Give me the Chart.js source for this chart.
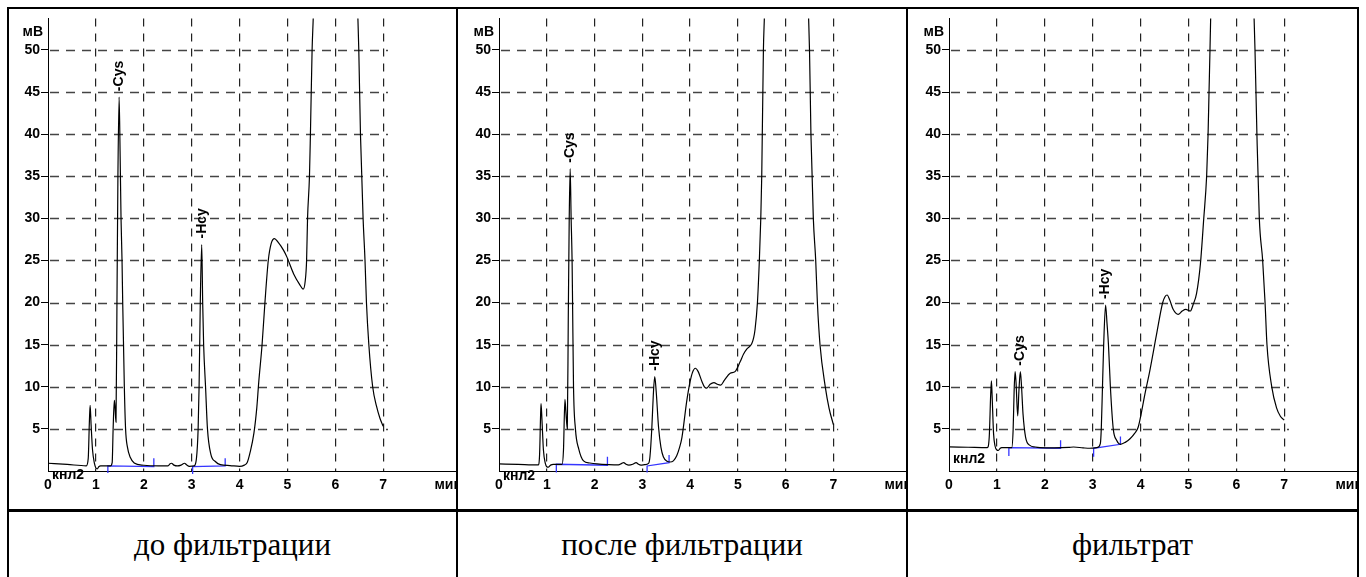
<!DOCTYPE html>
<html>
<head>
<meta charset="utf-8">
<script src="https://cdn.jsdelivr.net/npm/chart.js@4.4.0/dist/chart.umd.min.js"></script>
<style>
  body { margin: 0; background: #fff; width: 1366px; height: 577px; overflow: hidden; position: relative; }
  .line { position: absolute; background: #000; }
  canvas { position: absolute; top: 9px; }
  .caption { position: absolute; top: 512px; height: 65px; line-height: 65px; text-align: center;
             font-family: 'Liberation Serif', 'Times New Roman', serif; font-size: 31px; color: #000; }
</style>
</head>
<body>
<div class="line" style="left:7px;top:7px;width:1352px;height:2px"></div>
<div class="line" style="left:7px;top:7px;width:2px;height:570px"></div>
<div class="line" style="left:1357px;top:7px;width:2px;height:570px"></div>
<div class="line" style="left:456px;top:7px;width:2px;height:570px"></div>
<div class="line" style="left:906px;top:7px;width:2px;height:570px"></div>
<div class="line" style="left:7px;top:509px;width:1352px;height:3px"></div>

<canvas id="before" width="447" height="500" style="left:9px"></canvas>
<canvas id="after" width="448" height="500" style="left:458px"></canvas>
<canvas id="filtrate" width="449" height="500" style="left:908px"></canvas>

<div class="caption" style="left:9px;width:447px">до фильтрации</div>
<div class="caption" style="left:458px;width:448px">после фильтрации</div>
<div class="caption" style="left:908px;width:449px">фильтрат</div>

<script>
// axes
const xTicks = [0, 1, 2, 3, 4, 5, 6, 7];
const yTicks = [5, 10, 15, 20, 25, 30, 35, 40, 45, 50];
const xMax = 8.52;
const yMax = 53.75;
const gridEnd = 7.1;
const unitX = 8.07;

// до фильтрации
const beforeTime = [0, 0.4, 0.8, 0.84, 0.865, 0.88, 0.9, 0.93, 0.97, 1.0, 1.03, 1.06, 1.1, 1.3, 1.34, 1.36, 1.385, 1.4, 1.42,
  1.44, 1.46, 1.485, 1.505, 1.525, 1.546, 1.56, 1.594, 1.62, 1.66, 1.72, 1.8, 2.0, 2.3, 2.5, 2.55, 2.58, 2.63, 2.7, 2.78,
  2.85, 2.9, 2.95, 3.05, 3.1, 3.135, 3.155, 3.18, 3.21, 3.23, 3.25, 3.29, 3.33, 3.4, 3.5, 3.6, 3.8, 4.0, 4.1, 4.16, 4.22,
  4.3, 4.36, 4.4, 4.47, 4.53, 4.6, 4.66, 4.73, 4.8, 4.92, 4.99, 5.13, 5.25, 5.33, 5.37, 5.4, 5.42, 5.46, 5.48, 5.515,
  5.54, 6.0, 6.47, 6.49, 6.525, 6.58, 6.62, 6.65, 6.7, 6.78, 6.86, 6.93, 7.0];
const beforeMv = [0.92, 0.78, 0.62, 1.5, 6.0, 7.8, 5.5, 2.5, 0.9, 0.35, 0.25, 0.5, 0.6, 0.6, 1.0, 5.0, 8.4, 7.5, 5.8,
  20, 35, 44.4, 38, 30, 25, 20, 10, 5, 2.8, 1.6, 0.95, 0.68, 0.6, 0.6, 0.85, 0.92, 0.7, 0.6, 0.7,
  0.92, 0.7, 0.55, 0.6, 1.5, 5, 10, 20, 26.9, 20, 15, 10, 5, 2.0, 1.1, 0.75, 0.65, 0.55, 0.7, 1.0, 2.2,
  4.5, 7.5, 10.5, 15, 20, 25, 27, 27.6, 27.2, 26.2, 25.4, 23.4, 22.2, 21.6, 22.5, 25, 30, 35, 40, 50,
  54, 150, 54, 50, 40, 30, 25, 20, 15, 10, 7.7, 6.3, 5.3];
const beforeBaseTime = [1.25, 1.25, 2.21, 2.21, 2.21, 3.02, 3.02, 3.70, 3.70];
const beforeBaseMv = [-0.25, 0.6, 0.53, 1.5, null, -0.37, 0.53, 0.6, 1.5];
const beforePeaks = [['Cys', 1.485, 44.4], ['Hcy', 3.21, 26.9]];

// после фильтрации
const afterTime = [0, 0.4, 0.82, 0.85, 0.87, 0.88, 0.9, 0.93, 0.97, 1.0, 1.03, 1.08, 1.14, 1.32, 1.35, 1.38, 1.4, 1.43,
  1.45, 1.47, 1.49, 1.51, 1.53, 1.54, 1.56, 1.6, 1.67, 1.77, 1.9, 2.05, 2.3, 2.5, 2.57, 2.61, 2.66, 2.72, 2.8, 2.87,
  2.92, 2.97, 3.05, 3.13, 3.16, 3.2, 3.23, 3.26, 3.29, 3.34, 3.39, 3.44, 3.52, 3.58, 3.65, 3.72, 3.78, 3.83, 3.93, 4.0,
  4.05, 4.11, 4.17, 4.25, 4.3, 4.35, 4.42, 4.5, 4.57, 4.64, 4.72, 4.84, 4.94, 5.05, 5.12, 5.19, 5.29, 5.33, 5.36, 5.41,
  5.45, 5.48, 5.5, 5.535, 5.556, 6.0, 6.48, 6.5, 6.53, 6.58, 6.63, 6.665, 6.72, 6.83, 6.91, 7.0];
const afterMv = [0.84, 0.78, 0.72, 2.0, 6.5, 8.0, 6.0, 2.5, 0.9, 0.5, 0.45, 0.7, 0.78, 0.78, 2.5, 8.5, 7.0, 5.0,
  18, 30, 35.9, 30, 25, 20, 10, 5, 2.6, 1.2, 0.95, 0.84, 0.75, 0.72, 0.9, 1.0, 0.8, 0.7, 0.8, 1.0,
  0.8, 0.7, 0.75, 0.9, 1.7, 5.2, 9, 11.2, 9.5, 5.2, 2.8, 1.7, 1.15, 1.07, 1.2, 1.8, 2.8, 4.0, 8.3, 10.6,
  11.7, 12.2, 11.8, 10.6, 10.0, 9.85, 10.3, 10.5, 10.3, 10.2, 10.8, 11.6, 11.8, 13.0, 13.9, 14.5, 15.1, 15.8, 16.8, 20,
  25, 30, 35, 50, 54, 150, 54, 50, 40, 30, 25, 20, 15, 10, 7.45, 5.5];
const afterBaseTime = [1.2, 1.2, 2.27, 2.27, 2.27, 3.1, 3.1, 3.56, 3.56];
const afterBaseMv = [-0.17, 0.8, 0.68, 1.7, null, -0.17, 0.6, 1.0, 1.9];
const afterPeaks = [['Cys', 1.49, 35.9], ['Hcy', 3.26, 11.2]];

// фильтрат
const filtrateTime = [0, 0.4, 0.8, 0.84, 0.87, 0.886, 0.9, 0.93, 0.96, 1.0, 1.03, 1.07, 1.1, 1.31, 1.34, 1.36, 1.38, 1.4,
  1.435, 1.46, 1.49, 1.515, 1.546, 1.6, 1.69, 1.8, 1.9, 2.2, 2.5, 2.6, 2.8, 2.94, 3.1, 3.16, 3.18, 3.205, 3.23, 3.27,
  3.3, 3.33, 3.37, 3.43, 3.5, 3.58, 3.68, 3.78, 3.88, 3.95, 4.02, 4.09, 4.19, 4.33, 4.46, 4.51, 4.555, 4.61, 4.68, 4.785,
  4.87, 4.945, 5.04, 5.1, 5.17, 5.25, 5.32, 5.38, 5.41, 5.43, 5.45, 5.465, 5.9, 6.37, 6.39, 6.43, 6.48, 6.55, 6.6, 6.64,
  6.74, 6.84, 6.92, 7.0];
const filtrateMv = [2.86, 2.82, 2.78, 4.0, 9.0, 10.7, 9.0, 4.5, 3.0, 2.5, 2.45, 2.7, 2.78, 2.78, 5.0, 9.5, 11.8, 10.5,
  6.55, 9.5, 11.8, 10.0, 6.75, 4.0, 3.05, 2.85, 2.78, 2.75, 2.8, 2.85, 2.75, 2.7, 2.8, 3.25, 5, 10, 15, 19.7,
  17.5, 15, 10, 5, 3.64, 3.17, 3.4, 3.83, 4.5, 5.2, 7.0, 9.1, 11.8, 16.1, 19.95, 20.7, 20.9, 20.3, 19.2, 18.6,
  19.0, 19.2, 19.0, 19.8, 21.1, 24.6, 30, 35, 40, 45, 50, 54, 130, 54, 50, 40, 30, 25, 20, 15,
  10, 7.5, 6.5, 6.05];
const filtrateBaseTime = [1.25, 1.25, 2.33, 2.33, 2.33, 3.02, 3.02, 3.58, 3.58];
const filtrateBaseMv = [1.77, 2.78, 2.7, 3.64, null, 1.7, 2.7, 3.17, 4.1];
const filtratePeaks = [['Cys', 1.48, 11.8], ['Hcy', 3.27, 19.7]];

const tickFont = { family: "'Liberation Sans', Arial, sans-serif", size: 14, weight: 'bold' };
const labelFont = "bold 14px 'Liberation Sans', Arial, sans-serif";

const toPoints = (t, v) => t.map((x, i) => ({ x: x, y: v[i] }));

function makeOverlay(mv, peaks) {
  return {
    id: 'overlay',
    beforeDatasetsDraw(chart) {
      const { ctx, scales: { x, y } } = chart;
      ctx.save();
      ctx.strokeStyle = '#444';
      ctx.lineWidth = 1.3;
      ctx.setLineDash([9, 7]);
      yTicks.forEach(v => {
        const py = Math.round(y.getPixelForValue(v)) + 0.5;
        ctx.beginPath();
        ctx.moveTo(x.getPixelForValue(0) + 2, py);
        ctx.lineTo(x.getPixelForValue(gridEnd), py);
        ctx.stroke();
      });
      ctx.restore();
    },
    afterDatasetsDraw(chart) {
      const { ctx, chartArea, scales: { x, y } } = chart;
      ctx.save();
      ctx.fillStyle = '#000';
      ctx.font = labelFont;
      ctx.textBaseline = 'middle';
      ctx.textAlign = 'right';
      ctx.fillText('мВ', chartArea.left - 5, chartArea.top + 14);
      ctx.textAlign = 'left';
      ctx.fillText('мин', x.getPixelForValue(unitX), chartArea.bottom + 14);
      ctx.fillText('кнл2', x.getPixelForValue(0) + 4, y.getPixelForValue(mv[0]) + 12);
      peaks.forEach(p => {
        ctx.save();
        ctx.translate(x.getPixelForValue(p[1]), y.getPixelForValue(p[2]) - 6);
        ctx.rotate(-Math.PI / 2);
        ctx.fillText('-' + p[0], 0, 0);
        ctx.restore();
      });
      ctx.restore();
    }
  };
}

function makeChart(id, axisWidth, time, mv, baseTime, baseMv, peaks) {
  new Chart(document.getElementById(id), {
    type: 'line',
    data: {
      datasets: [
        {
          data: toPoints(time, mv),
          borderColor: '#000',
          borderWidth: 1.2,
          pointRadius: 0,
          cubicInterpolationMode: 'monotone'
        },
        {
          data: toPoints(baseTime, baseMv),
          borderColor: '#3535ff',
          borderWidth: 1.3,
          pointRadius: 0,
          tension: 0,
          spanGaps: false,
          clip: 6
        }
      ]
    },
    options: {
      responsive: false,
      animation: false,
      events: [],
      layout: { padding: { top: 1, left: 0, right: 0, bottom: 0 } },
      plugins: { legend: { display: false }, tooltip: { enabled: false } },
      scales: {
        x: {
          type: 'linear',
          min: 0,
          max: xMax,
          afterBuildTicks: s => { s.ticks = xTicks.map(v => ({ value: v })); },
          afterFit: s => { s.height = 38; },
          ticks: { font: tickFont, color: '#000', padding: 6, maxRotation: 0, autoSkip: false },
          grid: {
            drawTicks: false,
            lineWidth: 1.2,
            color: c => (c.tick && c.tick.value === 0 ? 'rgba(0,0,0,0)' : '#222')
          },
          border: { display: true, color: '#000', width: 1, dash: [8, 7] }
        },
        y: {
          type: 'linear',
          min: 0,
          max: yMax,
          afterBuildTicks: s => { s.ticks = yTicks.map(v => ({ value: v })); },
          afterFit: s => { s.width = axisWidth; },
          ticks: { font: tickFont, color: '#000', padding: 1 },
          grid: { drawOnChartArea: false, drawTicks: true, tickLength: 7, color: '#000' },
          border: { display: true, color: '#000', width: 1 }
        }
      }
    },
    plugins: [makeOverlay(mv, peaks)]
  });
}

makeChart('before', 39, beforeTime, beforeMv, beforeBaseTime, beforeBaseMv, beforePeaks);
makeChart('after', 41, afterTime, afterMv, afterBaseTime, afterBaseMv, afterPeaks);
makeChart('filtrate', 41, filtrateTime, filtrateMv, filtrateBaseTime, filtrateBaseMv, filtratePeaks);
</script>
</body>
</html>
